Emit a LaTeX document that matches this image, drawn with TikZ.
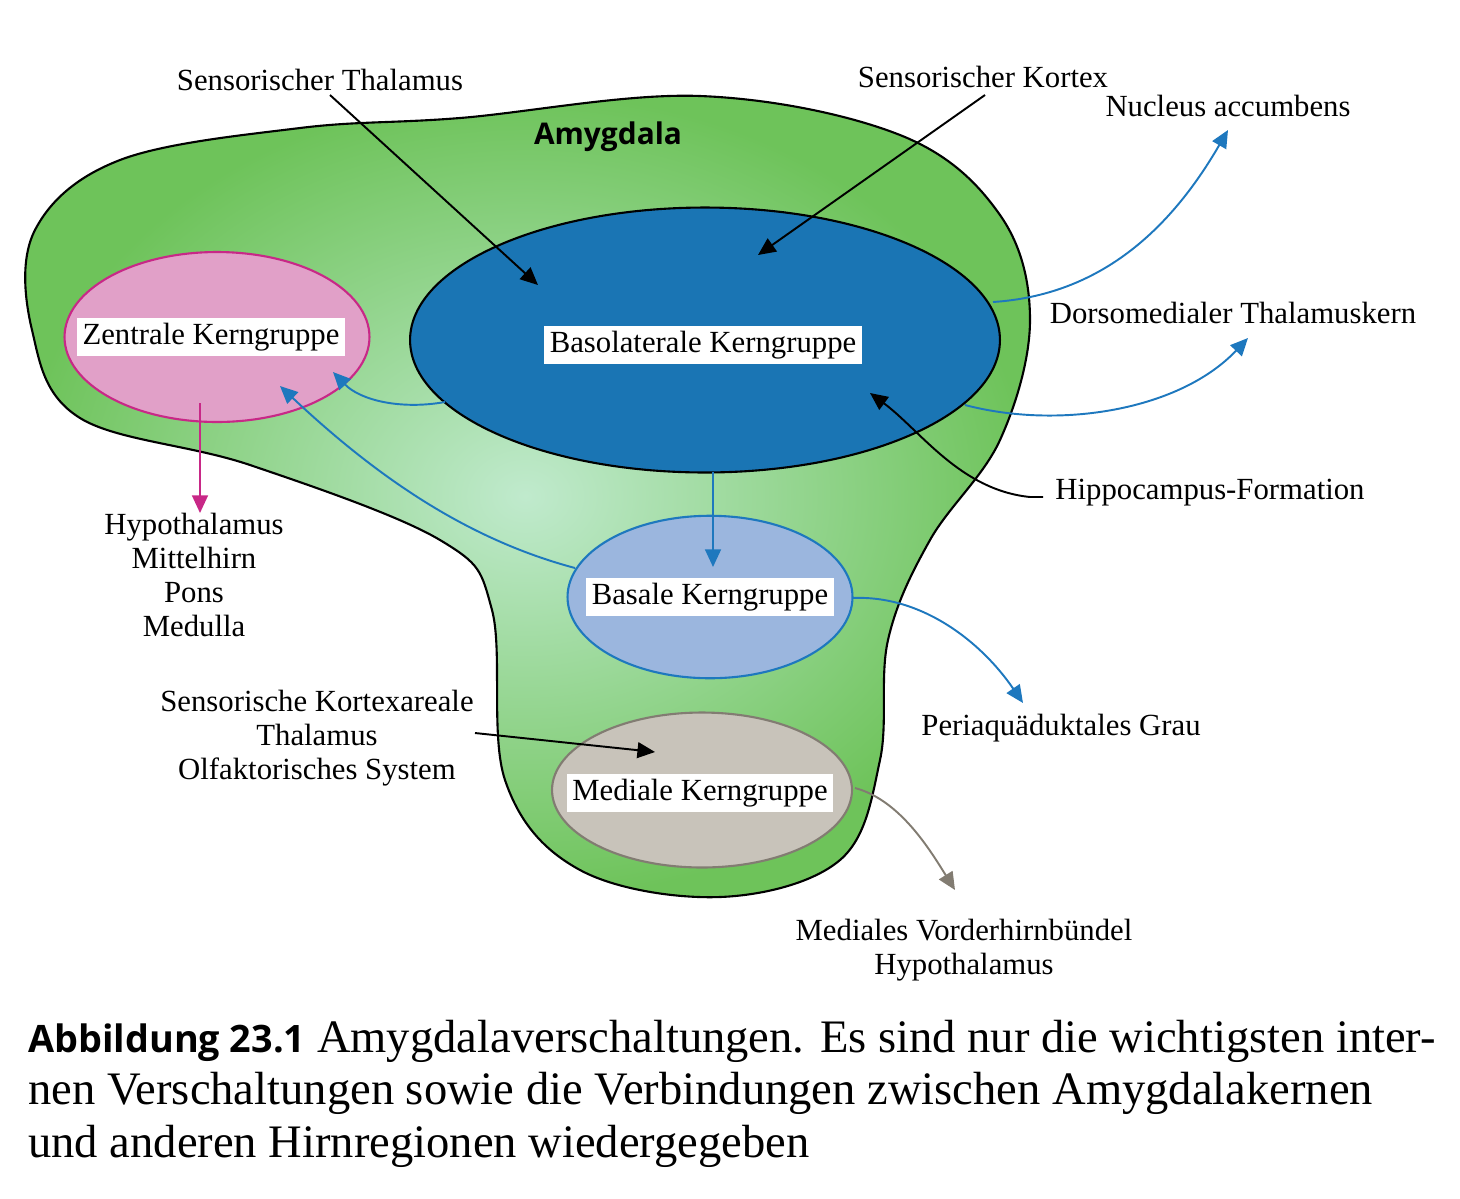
\documentclass[tikz,border=0pt]{standalone}
\usepackage{fontspec}
\setmainfont{Liberation Serif}
\newfontfamily\headfont{Open Sans}
\usetikzlibrary{shapes,positioning,arrows.meta,calc}
\definecolor{amyout}{RGB}{110,195,90}
\definecolor{amyin}{RGB}{192,234,205}
\definecolor{zentfill}{RGB}{225,160,200}
\definecolor{zentline}{RGB}{200,40,135}
\definecolor{basofill}{RGB}{26,117,180}
\definecolor{basafill}{RGB}{155,182,222}
\definecolor{arrblue}{RGB}{30,120,190}
\definecolor{medfill}{RGB}{200,195,186}
\definecolor{medline}{RGB}{130,124,114}
\tikzset{
  lbl/.style={font=\fontsize{17.5}{19.5}\selectfont,align=center},
  kern/.style={fill=white,inner sep=3pt,font=\fontsize{17.5}{20}\selectfont},
  nucleus/.style={ellipse,draw,line width=1.2pt}
}
\begin{document}
\begin{tikzpicture}[x=0.02cm,y=-0.02cm]
  \useasboundingbox (0,0) rectangle (1460,1198);
  \begin{scope}[>={Triangle[length=10pt,width=9pt]},line width=1.1pt]
    % amygdala
    \draw[line width=1.2pt,inner color=amyin,outer color=amyout]
      plot[smooth cycle,tension=0.6] coordinates {(35,230) (120,160) (300,128) (460,118) (700,96) (900,135)
        (1000,215) (1030,320) (1000,440) (930,540) (888,640) (880,760) (840,860) (720,897)
        (580,870) (505,780) (492,610) (440,540) (250,465) (80,418) (32,330)};
    \node (amy) at (608,137) [font=\headfont\bfseries\fontsize{17}{20}\selectfont]{Amygdala};

    \node (zent) at (217,337) [nucleus,fill=zentfill,draw=zentline,minimum width=6.1cm,minimum height=3.4cm]{};
    \node (baso) at (705,340) [nucleus,fill=basofill,minimum width=11.8cm,minimum height=5.3cm]{};
    \node (basa) at (710,597) [nucleus,fill=basafill,draw=arrblue,minimum width=5.7cm,minimum height=3.25cm]{};
    \node (med) at (702,790) [nucleus,fill=medfill,draw=medline,minimum width=6cm,minimum height=3.1cm]{};
    \node (zentl) at (211,337) [kern]{Zentrale Kerngruppe};
    \node (basol) at (703,345) [kern]{Basolaterale Kerngruppe};
    \node (basal) at (710,597) [kern]{Basale Kerngruppe};
    \node (medl) at (700,793) [kern]{Mediale Kerngruppe};

    % outer labels
    \node (thal) at (320,80) [lbl]{Sensorischer Thalamus};
    \node (kort) at (983,77) [lbl]{Sensorischer Kortex};
    \node (nacc) at (1228,106) [lbl]{Nucleus accumbens};
    \node (dmt) at (1233,313) [lbl]{Dorsomedialer Thalamuskern};
    \node (hipp) at (1210,493) [lbl]{Hippocampus-Formation};
    \node (hypo) at (194,575) [lbl]{Hypothalamus\\Mittelhirn\\Pons\\Medulla};
    \node (pag) at (1061,728) [lbl]{Periaquäduktales Grau};
    \node (skx) at (317,738) [lbl]{Sensorische Kortexareale\\Thalamus\\Olfaktorisches System};
    \node (mvh) at (964,950) [lbl]{Mediales Vorderhirnbündel\\Hypothalamus};

    \coordinate (thalend) at (538,285);
    \coordinate (kortend) at (758,255);
    \coordinate (naccend) at (1228,130);
    \coordinate (dmtend) at (1248,338);
    \coordinate (hippend) at (870,393);
    \coordinate (zentin) at (333,372);
    \coordinate (zentin2) at (280,386);
    \coordinate (hypoend) at (200,513);
    \coordinate (basain) at (713,567);
    \coordinate (pagend) at (1023,703);
    \coordinate (medin) at (655,752);
    \coordinate (mvhend) at (955,890);

    \draw[->] (330,95) -- (thalend);
    \draw[->] (985,95) -- (kortend);
    \draw[->,arrblue] (993,302) .. controls (1100,295) and (1170,230) .. (naccend);
    \draw[->,arrblue] (965,405) .. controls (1060,430) and (1180,410) .. (dmtend);
    \draw[->] (1043,497) -- (1030,497) .. controls (960,490) and (920,430) .. (hippend);
    \draw[->,arrblue] (445,402) .. controls (400,410) and (360,400) .. (zentin);
    \draw[->,arrblue] (575,568) .. controls (470,540) and (380,480) .. (zentin2);
    \draw[->,zentline] (200,403) -- (hypoend);
    \draw[->,arrblue] (713,472) -- (basain);
    \draw[->,arrblue] (853,598) .. controls (920,595) and (980,640) .. (pagend);
    \draw[->] (475,733) -- (medin);
    \draw[->,medline] (855,788) .. controls (900,800) and (930,850) .. (mvhend);
  \end{scope}

  % caption
  \begin{scope}[every node/.style={anchor=base west,inner sep=0pt,font=\fontsize{26.5}{30}\selectfont}]
    \node (cap1) at (28,1052) {{\headfont\bfseries\fontsize{21.5}{30}\selectfont Abbildung 23.1} Amygdalaverschaltungen. Es sind nur die wichtigsten inter-};
    \node (cap2) at (28,1104) {nen Verschaltungen sowie die Verbindungen zwischen Amygdalakernen};
    \node (cap3) at (28,1157) {und anderen Hirnregionen wiedergegeben};
  \end{scope}
\end{tikzpicture}
\end{document}
